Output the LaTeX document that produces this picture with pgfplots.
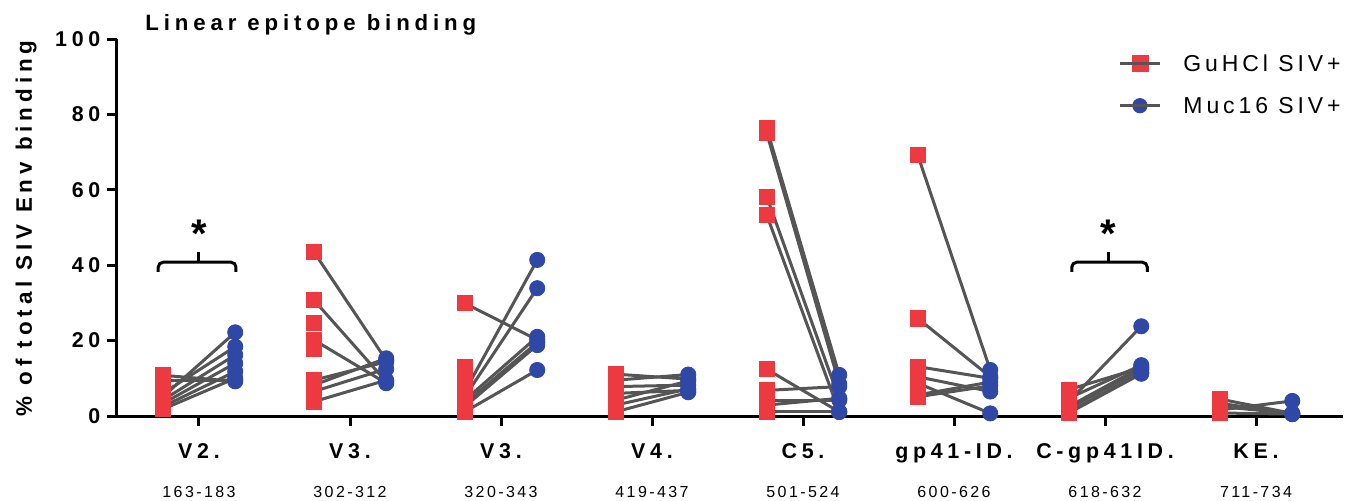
\documentclass[border=0pt]{standalone}
\usepackage{pgfplots}
\pgfplotsset{compat=1.18}
\usepackage{pgfplotstable}
\usepackage{fontspec}
\setmainfont{Liberation Sans}
\newfontfamily\spf[LetterSpace=22]{Liberation Sans}
\newfontfamily\lgf[LetterSpace=17]{Liberation Sans}
\newfontfamily\nmf[LetterSpace=15]{Liberation Sans}
\definecolor{sqred}{RGB}{236,58,64}
\definecolor{cblue}{RGB}{48,72,165}
\definecolor{lgray}{RGB}{85,85,85}

% paired values: grp = epitope index, g = GuHCl SIV+, m = Muc16 SIV+
\pgfplotstableread{
grp g m
0 9.4 9.5
0 5.1 22.2
0 6.0 18.4
0 4.2 16.2
0 3.3 14.0
0 2.5 11.8
0 1.8 10.0
0 10.8 9.2
1 43.6 14.8
1 30.8 9.1
1 20.2 8.7
1 9.5 14.4
1 8.2 15.3
1 6.5 12.5
1 3.8 9.5
2 29.9 20.2
2 6.5 41.4
2 5.1 33.9
2 4.2 21.0
2 3.3 19.5
2 2.5 18.8
2 1.1 12.2
3 11.1 9.8
3 9.5 11.0
3 7.8 8.2
3 4.2 9.3
3 2.9 7.2
3 1.1 6.3
3 6.0 6.8
4 76.3 10.9
4 75.0 8.5
4 58.2 4.5
4 53.3 1.1
4 12.4 1.1
4 4.2 4.2
4 2.9 4.7
4 1.1 1.1
4 6.8 7.8
5 69.2 12.2
5 25.9 10.4
5 13.1 10.0
5 10.4 6.5
5 8.7 0.7
5 5.6 9.0
5 5.1 8.0
6 3.8 23.8
6 4.7 13.5
6 2.5 13.0
6 2.0 12.3
6 1.1 11.5
6 0.8 11.2
6 7.0 12.8
7 4.5 0.7
7 3.4 0.5
7 1.6 4.0
7 2.5 0.7
7 0.8 0.5
}\pairs

% unpaired GuHCl values
\pgfplotstableread{
grp g
1 24.8
1 17.7
2 12.9
2 10.0
}\extra

\begin{document}
\begin{tikzpicture}
\begin{axis}[
  at={(0,0)}, anchor=south west,
  scale only axis, width=613pt, height=188.5pt,
  xmin=-0.543, xmax=7.576, ymin=0, ymax=100,
  axis lines=left, axis line style={-, line width=1.5pt},
  xtick={0,1,2,3,4,5,6,7}, xticklabels={},
  ytick={0,20,40,60,80,100},
  tick align=outside, major tick length=4.8pt,
  tick style={line width=1.5pt, black},
  /pgf/number format/assume math mode=true,
  yticklabel style={font=\fontsize{10.7}{12}\spf\bfseries},
  clip=false,
  legend style={draw=none, fill=none, inner sep=0pt,
    at={(axis description cs:0.8165,0.959)}, anchor=north west,
    row sep=13pt, column sep=11pt,
    nodes={inner sep=0pt, text depth=0pt},
    font=\fontsize{11.5}{13}\lgf},
  legend cell align=left,
]
\addplot[forget plot, only marks, mark=square*, mark size=3.8pt,
  mark options={draw=sqred, fill=sqred}]
  table[x expr=\thisrow{grp}-0.24, y=g] {\pairs};
\addplot[forget plot, only marks, mark=square*, mark size=3.8pt,
  mark options={draw=sqred, fill=sqred}]
  table[x expr=\thisrow{grp}-0.24, y=g] {\extra};
\addplot[forget plot, only marks, mark=*, mark size=3.8pt,
  mark options={draw=cblue, fill=cblue}]
  table[x expr=\thisrow{grp}+0.24, y=m] {\pairs};
\addplot[forget plot, lgray, line width=1.5pt, no marks,
  quiver={u=0.48, v=\thisrow{m}-\thisrow{g}}]
  table[x expr=\thisrow{grp}-0.24, y=g] {\pairs};

\addlegendimage{legend image code/.code={\fill[sqred] (6pt,-4pt) rectangle (14pt,4pt); \draw[lgray,line width=1.5pt] (0pt,0pt)--(20pt,0pt);}}
\addlegendentry{GuHCl SIV+}
\addlegendimage{legend image code/.code={\fill[cblue] (10pt,0pt) circle (3.6pt); \draw[lgray,line width=1.5pt] (0pt,0pt)--(20pt,0pt);}}
\addlegendentry{Muc16 SIV+}

% significance brackets
\draw[line width=1.5pt, rounded corners=2.5pt] (axis cs:-0.27,38.2) |- (axis cs:0.245,40.8) -- (axis cs:0.245,38.2);
\draw[line width=1.5pt] (axis cs:0,40.8) -- (axis cs:0,43.5);
\node[anchor=base, inner sep=0pt, font=\fontsize{20}{22}\selectfont\bfseries] at (axis cs:0,44.6) {*};
\draw[line width=1.5pt, rounded corners=2.5pt] (axis cs:5.78,38.2) |- (axis cs:6.28,40.8) -- (axis cs:6.28,38.2);
\draw[line width=1.5pt] (axis cs:6.02,40.8) -- (axis cs:6.02,43.5);
\node[anchor=base, inner sep=0pt, font=\fontsize{20}{22}\selectfont\bfseries] at (axis cs:6.02,44.6) {*};

% category labels
\tikzset{catl/.style={anchor=base, inner sep=0pt, yshift=-21pt, font=\fontsize{10.7}{12}\spf\bfseries},
         numl/.style={anchor=base, inner sep=0pt, yshift=-40.5pt, font=\fontsize{8}{10}\nmf}}
\node[catl] at (axis cs:0,0) {V2.};
\node[catl] at (axis cs:1,0) {V3.};
\node[catl] at (axis cs:2,0) {V3.};
\node[catl] at (axis cs:3,0) {V4.};
\node[catl] at (axis cs:4,0) {C5.};
\node[catl] at (axis cs:5,0) {gp41-ID.};
\node[catl] at (axis cs:6,0) {C-gp41ID.};
\node[catl] at (axis cs:7,0) {KE.};
\node[numl] at (axis cs:0,0) {163-183};
\node[numl] at (axis cs:1,0) {302-312};
\node[numl] at (axis cs:2,0) {320-343};
\node[numl] at (axis cs:3,0) {419-437};
\node[numl] at (axis cs:4,0) {501-524};
\node[numl] at (axis cs:5,0) {600-626};
\node[numl] at (axis cs:6,0) {618-632};
\node[numl] at (axis cs:7,0) {711-734};
\end{axis}
\node[anchor=base west, inner sep=0pt, font=\fontsize{11.1}{12}\spf\bfseries] at (14pt,193pt) {Linear epitope binding};
\node[anchor=base, rotate=90, inner sep=0pt, font=\fontsize{11.2}{12}\spf\bfseries] at (-42.5pt,93.75pt) {\% of total SIV Env binding};
\pgfresetboundingbox
\path (-58.5pt,-42pt) rectangle (624pt,208pt);
\end{tikzpicture}
\end{document}
